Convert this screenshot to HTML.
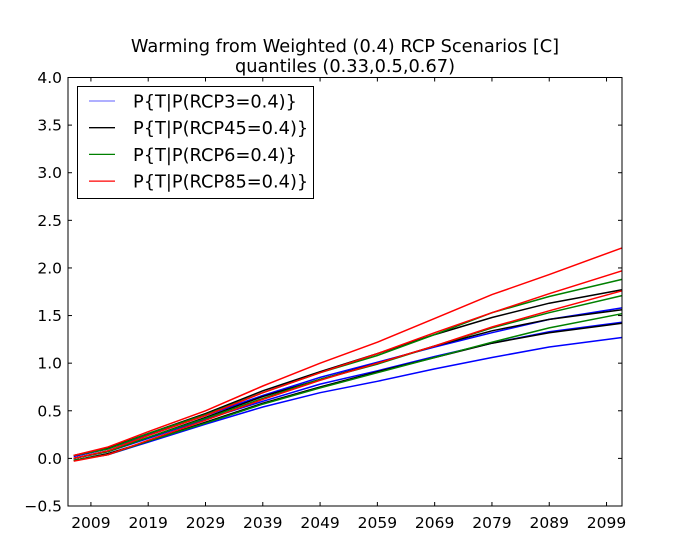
<!DOCTYPE html>
<html><head><meta charset="utf-8"><style>
html,body{margin:0;padding:0;background:#fff;width:688px;height:554px;overflow:hidden}
text{font-family:"DejaVu Sans","Liberation Sans",sans-serif;fill:#000}
</style></head><body>
<svg id="chart" width="688" height="554">
<text x="345" y="52" font-size="17.8" text-anchor="middle">Warming from Weighted (0.4) RCP Scenarios [C]</text>
<text x="345" y="72" font-size="17.8" text-anchor="middle">quantiles (0.33,0.5,0.67)</text>
<g id="series"></g>
<g id="axes"></g>
<rect x="68" y="77.5" width="554" height="428.5" fill="none" stroke="#000" stroke-width="1"/>
<g>
<rect x="77.5" y="86.5" width="236" height="112" fill="#fff" stroke="#000" stroke-width="1"/>
<g id="legend-items"></g>
</g>
</svg>
<script>
const years=[2006,2012,2019,2029,2039,2049,2059,2069,2079,2089,2101.7];
const rcp3Low=[-0.02,0.04,0.17,0.36,0.54,0.69,0.81,0.94,1.06,1.17,1.27];
const rcp3Mid=[0,0.07,0.21,0.41,0.60,0.78,0.92,1.07,1.21,1.33,1.43];
const rcp3High=[0.02,0.10,0.25,0.45,0.66,0.85,1.01,1.17,1.32,1.46,1.58];
const rcp45Low=[-0.02,0.05,0.18,0.38,0.58,0.75,0.91,1.06,1.21,1.32,1.42];
const rcp45Mid=[0,0.08,0.22,0.43,0.65,0.83,1.00,1.18,1.34,1.46,1.56];
const rcp45High=[0.03,0.11,0.26,0.47,0.71,0.91,1.10,1.30,1.48,1.63,1.77];
const rcp6Low=[-0.02,0.04,0.18,0.37,0.57,0.74,0.90,1.06,1.22,1.37,1.52];
const rcp6Mid=[0,0.07,0.22,0.42,0.63,0.83,0.99,1.18,1.37,1.53,1.71];
const rcp6High=[0.03,0.10,0.26,0.46,0.69,0.90,1.08,1.30,1.53,1.70,1.88];
const rcp85Low=[-0.03,0.04,0.19,0.40,0.62,0.82,1.00,1.18,1.38,1.55,1.76];
const rcp85Mid=[0,0.08,0.24,0.45,0.69,0.90,1.10,1.32,1.53,1.73,1.97];
const rcp85High=[0.03,0.12,0.28,0.50,0.76,1.00,1.22,1.47,1.72,1.93,2.21];
const xTicks=[2009,2019,2029,2039,2049,2059,2069,2079,2089,2099];
const yTicks=[-0.5,0,0.5,1,1.5,2,2.5,3,3.5,4];
const legendLabels=["P{T|P(RCP3=0.4)}","P{T|P(RCP45=0.4)}","P{T|P(RCP6=0.4)}","P{T|P(RCP85=0.4)}"];

const X0=68,X1=622,Y0=506,Y1=77.5,xmin=2005,xmax=2101.7,ymin=-0.5,ymax=4;
const sx=v=>X0+(v-xmin)/(xmax-xmin)*(X1-X0);
const sy=v=>Y0-(v-ymin)/(ymax-ymin)*(Y0-Y1);
const NS="http://www.w3.org/2000/svg";
const sg=document.getElementById('series');
const groups=[
 {name:'rcp3',color:'#0000ff',data:[rcp3Low,rcp3Mid,rcp3High]},
 {name:'rcp45',color:'#000000',data:[rcp45Low,rcp45Mid,rcp45High]},
 {name:'rcp6',color:'#008000',data:[rcp6Low,rcp6Mid,rcp6High]},
 {name:'rcp85',color:'#ff0000',data:[rcp85Low,rcp85Mid,rcp85High]}];
const qn=['q33','q50','q67'];
groups.forEach(g=>g.data.forEach((arr,i)=>{
 const p=document.createElementNS(NS,'polyline');
 p.setAttribute('points',arr.map((v,j)=>sx(Math.min(years[j],xmax)).toFixed(1)+','+sy(v).toFixed(1)).join(' '));
 p.setAttribute('fill','none');p.setAttribute('stroke',g.color);p.setAttribute('stroke-width','1.5');
 
 
 sg.appendChild(p);
}));
const ax=document.getElementById('axes');
xTicks.forEach(t=>{
 const x=sx(t);
 [[Y0,Y0-4],[Y1,Y1+4]].forEach(([a,b])=>{const l=document.createElementNS(NS,'line');
  l.setAttribute('x1',x);l.setAttribute('x2',x);l.setAttribute('y1',a);l.setAttribute('y2',b);l.setAttribute('stroke','#000');
  
  
  ax.appendChild(l);});
 const tx=document.createElementNS(NS,'text');
 tx.setAttribute('x',x);tx.setAttribute('y',528);tx.setAttribute('font-size','15.5');tx.setAttribute('text-anchor','middle');
 tx.textContent=t;
 
 
 ax.appendChild(tx);
});
yTicks.forEach(t=>{
 const y=sy(t);
 [[X0,X0+4],[X1,X1-4]].forEach(([a,b])=>{const l=document.createElementNS(NS,'line');
  l.setAttribute('x1',a);l.setAttribute('x2',b);l.setAttribute('y1',y);l.setAttribute('y2',y);l.setAttribute('stroke','#000');
  
  
  ax.appendChild(l);});
 const tx=document.createElementNS(NS,'text');
 tx.setAttribute('x',62);tx.setAttribute('y',y+5.5);tx.setAttribute('font-size','15.5');tx.setAttribute('text-anchor','end');
 tx.textContent=(t<0?'\u2212':'')+Math.abs(t).toFixed(1);
 
 
 ax.appendChild(tx);
});
const lg=document.getElementById('legend-items');
const lcol=['#7f7fff','#000000','#008000','#ff0000'];
legendLabels.forEach((s,i)=>{
 const y=101+i*26.7;
 const l=document.createElementNS(NS,'line');
 l.setAttribute('x1',89);l.setAttribute('x2',115);l.setAttribute('y1',y);l.setAttribute('y2',y);l.setAttribute('stroke',lcol[i]);l.setAttribute('stroke-width','1.3');
 
 
 lg.appendChild(l);
 const tx=document.createElementNS(NS,'text');
 tx.setAttribute('x',133);tx.setAttribute('y',y+6.5);tx.setAttribute('font-size','17.8');
 tx.textContent=s;
 
 
 lg.appendChild(tx);
});
</script>
</body></html>
